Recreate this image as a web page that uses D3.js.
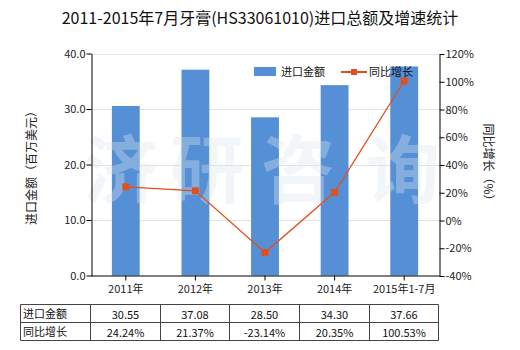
<!DOCTYPE html>
<html><head><meta charset="utf-8">
<script src="https://cdn.jsdelivr.net/npm/d3@7/dist/d3.min.js"></script>
<style>body{margin:0;background:#fff;} text{font-family:"Microsoft YaHei","Noto Sans CJK SC","DejaVu Sans",sans-serif;}</style>
</head><body><svg id="c" width="520" height="350"></svg>
<script>
const categories = ["2011年","2012年","2013年","2014年","2015年1-7月"];
const importValues = [30.55, 37.08, 28.50, 34.30, 37.66];
const growthValues = [24.24, 21.37, -23.14, 20.35, 100.53];
const importLabels = ["30.55","37.08","28.50","34.30","37.66"];
const growthLabels = ["24.24%","21.37%","-23.14%","20.35%","100.53%"];
const leftTicks = [0,10,20,30,40];
const rightTicks = [-40,-20,0,20,40,60,80,100,120];

const svg = d3.select("#c");
const L = 91, R = 439, T = 53.5, B = 275.5;
const font = '"Microsoft YaHei","Noto Sans CJK SC",sans-serif';
const barColor = "#5590d6", lineColor = "#e0501e";

svg.append("text").attr("x",260).attr("y",24).attr("text-anchor","middle")
  .attr("font-size",16).attr("fill","#111").text("2011-2015年7月牙膏(HS33061010)进口总额及增速统计");

const x = d3.scaleBand().domain(categories).range([L,R]).paddingInner(0.6).paddingOuter(0.3);
const yL = d3.scaleLinear().domain([0,40]).range([B,T]);
const yR = d3.scaleLinear().domain([-40,120]).range([B+0.5,T+0.5]);

// grid
svg.append("g").selectAll("line").data(leftTicks.filter(d=>d>0)).join("line")
  .attr("x1",L).attr("x2",R).attr("y1",d=>Math.round(yL(d))+0.5).attr("y2",d=>Math.round(yL(d))+0.5)
  .attr("stroke","#e3e3e3");

// bars
svg.append("g").selectAll("rect").data(importValues).join("rect")
  .attr("x",(d,i)=>x(categories[i])).attr("width",x.bandwidth())
  .attr("y",d=>yL(d)).attr("height",d=>B-yL(d)).attr("fill",barColor);

// watermark
const wm = ["济","研","咨","询"], wmx=[121,207,298,403];
svg.append("g").selectAll("text").data(wm).join("text")
  .attr("x",(d,i)=>wmx[i]).attr("y",197).attr("text-anchor","middle")
  .attr("font-size",74).attr("font-weight","bold").attr("fill","#dde6ee").attr("opacity",0.35).text(d=>d);

// line
const cx = (i)=>x(categories[i])+x.bandwidth()/2;
svg.append("path").datum(growthValues)
  .attr("d",d3.line().x((d,i)=>cx(i)).y(d=>yR(d)))
  .attr("fill","none").attr("stroke",lineColor).attr("stroke-width",1.3);
svg.append("g").selectAll("rect").data(growthValues).join("rect")
  .attr("x",(d,i)=>cx(i)-3.5).attr("y",d=>yR(d)-3.5).attr("width",7).attr("height",7).attr("fill",lineColor);

// axes
const axL = svg.append("g").attr("transform",`translate(${L+0.5},0)`)
  .call(d3.axisLeft(yL).tickValues(leftTicks).tickFormat(d3.format(".1f")).tickSize(5).tickSizeOuter(0));
const axR = svg.append("g").attr("transform",`translate(${R+0.5},0)`)
  .call(d3.axisRight(yR).tickValues(rightTicks).tickFormat(d=>d+"%").tickSize(5).tickSizeOuter(0));
const axB = svg.append("g").attr("transform",`translate(0,${B})`)
  .call(d3.axisBottom(x).tickSize(5).tickSizeOuter(0));
[axL,axR,axB].forEach(a=>{
  a.select(".domain").attr("stroke","#000");
  a.selectAll(".tick line").attr("stroke","#000");
  a.selectAll("text").attr("font-family",font).attr("font-size",11).attr("fill","#222");
});
axL.selectAll("text").attr("x",-6);
axR.selectAll("text").attr("x",6);
axB.selectAll("text").attr("y",10);
axB.select(".domain").attr("d",`M${L},0.5H${R+0.5}`);

// axis titles
svg.append("text").attr("transform","translate(36,165) rotate(-90)").attr("text-anchor","middle")
  .attr("font-size",12).attr("fill","#222").text("进口金额（百万美元）");
svg.append("text").attr("transform","translate(484,165) rotate(90)").attr("text-anchor","middle")
  .attr("font-size",12).attr("fill","#222").text("同比增长（%）");

// legend
svg.append("rect").attr("x",254).attr("y",67).attr("width",22).attr("height",9).attr("fill",barColor);
svg.append("text").attr("x",281).attr("y",76).attr("font-size",11).attr("fill","#111").text("进口金额");
svg.append("line").attr("x1",341).attr("x2",367).attr("y1",72).attr("y2",72).attr("stroke",lineColor).attr("stroke-width",2);
svg.append("rect").attr("x",351).attr("y",69).attr("width",6).attr("height",6).attr("fill",lineColor);
svg.append("text").attr("x",369).attr("y",76).attr("font-size",11).attr("fill","#111").text("同比增长");

// table
const colX = [20.5,90.5,160.5,229.5,299.5,369.5,438.5];
const rowY = [304.5,322.5,340.5];
const tg = svg.append("g");
tg.selectAll("line.h").data(rowY).join("line").attr("x1",colX[0]).attr("x2",colX[6])
  .attr("y1",d=>d).attr("y2",d=>d).attr("stroke","#444");
tg.selectAll("line.v").data(colX).join("line").attr("x1",d=>d).attr("x2",d=>d)
  .attr("y1",rowY[0]).attr("y2",rowY[2]).attr("stroke","#444");
const rows = [["进口金额",importLabels],["同比增长",growthLabels]];
rows.forEach((r,ri)=>{
  tg.append("text").attr("x",23).attr("y",rowY[ri]+13).attr("font-size",11).attr("fill","#111").text(r[0]);
  tg.selectAll(null).data(r[1]).join("text").attr("x",(d,i)=>(colX[i+1]+colX[i+2])/2)
    .attr("y",rowY[ri]+14).attr("text-anchor","middle").attr("font-size",11).attr("fill","#111").text(d=>d);
});
</script></body></html>
